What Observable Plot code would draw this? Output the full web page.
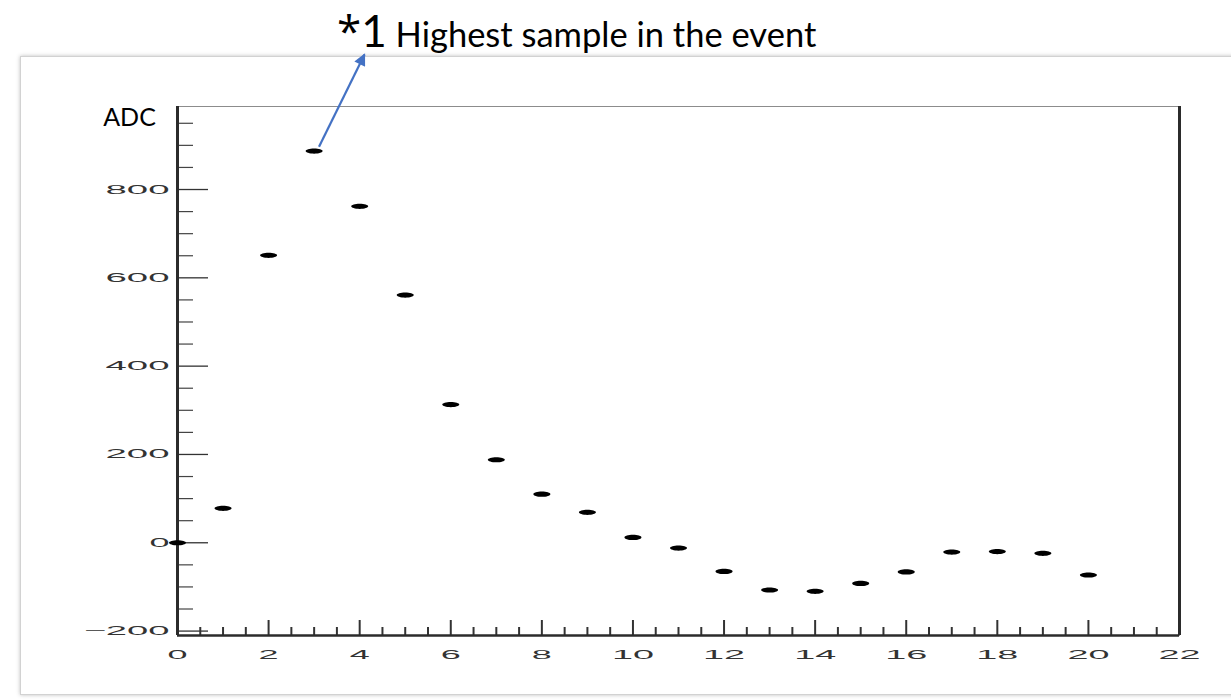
<!DOCTYPE html>
<html>
<head>
<meta charset="utf-8">
<script src="https://cdn.jsdelivr.net/npm/d3@7"></script>
<script src="https://cdn.jsdelivr.net/npm/@observablehq/plot@0.6"></script>
<style>
  html, body { margin: 0; padding: 0; background: #fff; }
  body { width: 1231px; height: 700px; overflow: hidden; position: relative; }
  #box { position: absolute; left: 20px; top: 56px; width: 1240px; height: 637px;
         border: 1px solid #d2d2d2; box-shadow: 0 0 4px rgba(0,0,0,0.25); background: #fff; }
  #title { position: absolute; left: 337px; top: 8px; white-space: nowrap;
           font-family: Lato, "Open Sans", sans-serif; font-size: 44px; line-height: 44px; color: #000; }
  #title .star { font-family: "Open Sans", Lato, sans-serif; font-size: 44px; }
  #title .big { font-size: 44px; }
  #title .small { font-size: 34.5px; }
  #chart { position: absolute; left: 0; top: 0; }
</style>
</head>
<body>
<div id="box"></div>
<div id="chart"></div>
<div id="title"><span class="star">*</span><span class="big">1</span><span class="small"> Highest sample in the event</span></div>
<script>
// ---- data ----
const sampleIndex = [0, 1, 2, 3, 4, 5, 6, 7, 8, 9, 10, 11, 12, 13, 14, 15, 16, 17, 18, 19, 20];
const adcValues   = [0, 78, 651, 887, 762, 561, 313, 188, 110, 69, 12, -12, -65, -107, -110, -92, -66, -21, -20, -24, -73];
const xTickLabels = [0, 2, 4, 6, 8, 10, 12, 14, 16, 18, 20, 22];
const yTickLabels = [-200, 0, 200, 400, 600, 800];
const xDomain = [0, 22];
const yDomain = [-210, 988];
const yAxisTitle = "ADC";
// annotation arrow (data units): from the highest sample towards the note
const arrowStart = [3.107, 897];
const arrowEnd   = [4.106, 1106];

const xMinor = d3.range(xDomain[0], xDomain[1] + 0.001, 0.5).filter(v => !xTickLabels.includes(v));
const yMinor = d3.range(-200, 951, 50).filter(v => !yTickLabels.includes(v));

const W = 1231, H = 700, mL = 177, mR = 52, mT = 106, mB = 65;
const plotW = W - mL - mR, plotH = H - mT - mB;

const ellipseSymbol = {
  draw(ctx) {
    const rx = 8.5, ry = 2.6, k = 0.5523;
    ctx.moveTo(rx, 0);
    ctx.bezierCurveTo(rx, ry * k, rx * k, ry, 0, ry);
    ctx.bezierCurveTo(-rx * k, ry, -rx, ry * k, -rx, 0);
    ctx.bezierCurveTo(-rx, -ry * k, -rx * k, -ry, 0, -ry);
    ctx.bezierCurveTo(rx * k, -ry, rx, -ry * k, rx, 0);
    ctx.closePath();
  }
};

const points = sampleIndex.map((x, i) => ({x, y: adcValues[i]}));
const axisColor = "#2b2b2b";
const labelColor = "#333";

const chart = Plot.plot({
  width: W, height: H,
  marginLeft: mL, marginRight: mR, marginTop: mT, marginBottom: mB,
  style: {background: "transparent", fontFamily: "'Liberation Sans', Arial, sans-serif", fontSize: "12.5px"},
  x: {domain: xDomain, label: null},
  y: {domain: yDomain, label: null},
  marks: [
    Plot.frame({stroke: "#8c8c8c", strokeWidth: 1}),
    // minor / major ticks on y (pointing inward)
    Plot.ruleY(yMinor, {stroke: "#444", strokeWidth: 1.2, insetRight: plotW - 16}),
    Plot.ruleY(yTickLabels, {stroke: "#333", strokeWidth: 1.3, insetRight: plotW - 31}),
    // minor / major ticks on x (pointing up)
    Plot.ruleX(xMinor, {stroke: "#333", strokeWidth: 2, insetTop: plotH - 8}),
    Plot.ruleX(xTickLabels, {stroke: "#333", strokeWidth: 2, insetTop: plotH - 15}),
    // axis lines
    Plot.ruleX([xDomain[0]], {stroke: axisColor, strokeWidth: 3}),
    Plot.ruleX([xDomain[1]], {stroke: axisColor, strokeWidth: 3}),
    Plot.ruleY([yDomain[0]], {stroke: axisColor, strokeWidth: 2.5}),
    Plot.axisX(xTickLabels, {tickSize: 0, tickPadding: 15, fill: labelColor, stroke: "#666", strokeWidth: 0.25, fontSize: 12.5, label: null}),
    Plot.axisY(yTickLabels, {tickSize: 0, tickPadding: 8, fill: labelColor, stroke: "#666", strokeWidth: 0.25, fontSize: 12.5, label: null}),
    Plot.dot(points, {x: "x", y: "y", symbol: ellipseSymbol, fill: "#000", stroke: "none", r: 3}),
    Plot.link([{x1: arrowStart[0], y1: arrowStart[1], x2: arrowEnd[0], y2: arrowEnd[1]}],
      {x1: "x1", y1: "y1", x2: "x2", y2: "y2", stroke: "#4472C4", strokeWidth: 2.2, className: "annot-arrow"}),
    Plot.text([yAxisTitle], {frameAnchor: "top-left", text: d => d, dx: -48, dy: 11,
      fontFamily: "Lato, 'Open Sans', sans-serif", fontSize: 25, fill: "#000", textAnchor: "middle", lineAnchor: "middle"})
  ]
});
document.getElementById("chart").appendChild(chart);

// stretch tick labels horizontally like the reference rendering
const svg = d3.select(chart);
svg.selectAll('g[aria-label="x-axis tick label"] text, g[aria-label="y-axis tick label"] text').each(function() {
  const n = this.textContent.length;
  d3.select(this).attr("textLength", n * 22 - 2).attr("lengthAdjust", "spacingAndGlyphs");
});

// filled arrowhead for the annotation arrow
const defs = svg.append("defs");
defs.append("marker")
  .attr("id", "arrowhead-fill")
  .attr("viewBox", "0 0 10 10")
  .attr("refX", 9).attr("refY", 5)
  .attr("markerUnits", "userSpaceOnUse")
  .attr("markerWidth", 15).attr("markerHeight", 12)
  .attr("orient", "auto")
  .append("path").attr("d", "M0,0 L10,5 L0,10 Z").attr("fill", "#4472C4");
svg.selectAll("g.annot-arrow path, .annot-arrow path").attr("marker-end", "url(#arrowhead-fill)");
</script>
</body>
</html>
